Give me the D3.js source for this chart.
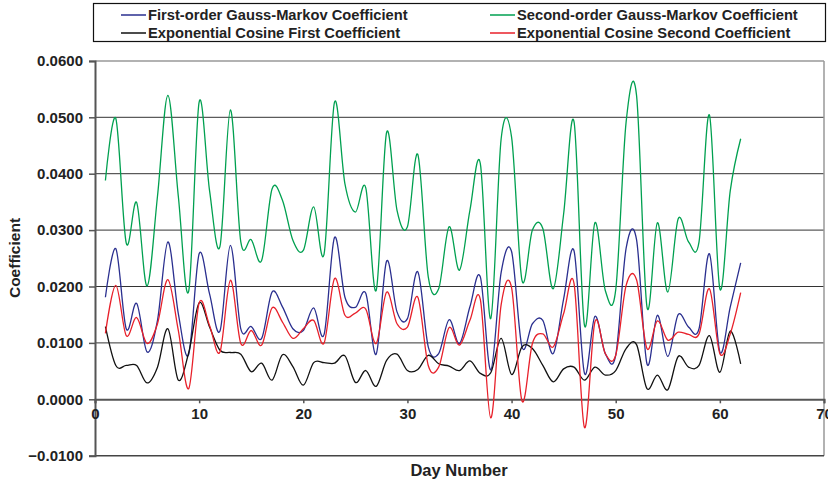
<!DOCTYPE html>
<html>
<head>
<meta charset="utf-8">
<script src="https://cdn.jsdelivr.net/npm/d3@7"></script>
<style>
  html, body { margin: 0; padding: 0; background: #fff; }
  svg { display: block; }
  text { font-family: "Liberation Sans", Arial, Helvetica, sans-serif; font-weight: bold; fill: #222; }
</style>
</head>
<body>
<svg id="chart" width="828" height="481"></svg>
<script>
const days = d3.range(1, 63);

const firstOrderGM = [
  0.0181, 0.0267, 0.0125, 0.0170, 0.0084, 0.0140, 0.0279, 0.0152, 0.0080, 0.0258,
  0.0187, 0.0121, 0.0273, 0.0125, 0.0129, 0.0108, 0.0190, 0.0164, 0.0125, 0.0122,
  0.0162, 0.0115, 0.0287, 0.0181, 0.0163, 0.0188, 0.0080, 0.0245, 0.0155, 0.0143,
  0.0226, 0.0093, 0.0081, 0.0141, 0.0099, 0.0164, 0.0217, 0.0052, 0.0225, 0.0262,
  0.0093, 0.0134, 0.0140, 0.0081, 0.0178, 0.0263, 0.0046, 0.0147, 0.0081, 0.0078,
  0.0268, 0.0283, 0.0063, 0.0149, 0.0076, 0.0150, 0.0128, 0.0125, 0.0258, 0.0084,
  0.0164, 0.0242
];

const secondOrderGM = [
  0.0388, 0.0498, 0.0277, 0.0349, 0.0201, 0.0360, 0.0539, 0.0360, 0.0192, 0.0527,
  0.0370, 0.0271, 0.0513, 0.0279, 0.0283, 0.0246, 0.0373, 0.0353, 0.0282, 0.0264,
  0.0341, 0.0258, 0.0527, 0.0382, 0.0332, 0.0375, 0.0193, 0.0473, 0.0335, 0.0306,
  0.0434, 0.0217, 0.0196, 0.0306, 0.0229, 0.0335, 0.0418, 0.0143, 0.0462, 0.0465,
  0.0211, 0.0300, 0.0303, 0.0196, 0.0329, 0.0492, 0.0131, 0.0313, 0.0193, 0.0194,
  0.0492, 0.0539, 0.0164, 0.0313, 0.0190, 0.0320, 0.0279, 0.0279, 0.0504, 0.0196,
  0.0370, 0.0462
];

const expCosFirst = [
  0.0129, 0.0060, 0.0060, 0.0060, 0.0029, 0.0057, 0.0125, 0.0034, 0.0083, 0.0171,
  0.0128, 0.0087, 0.0083, 0.0080, 0.0049, 0.0064, 0.0034, 0.0079, 0.0058, 0.0025,
  0.0065, 0.0065, 0.0064, 0.0077, 0.0030, 0.0051, 0.0023, 0.0069, 0.0080, 0.0051,
  0.0053, 0.0078, 0.0063, 0.0059, 0.0051, 0.0068, 0.0046, 0.0047, 0.0108, 0.0044,
  0.0093, 0.0090, 0.0060, 0.0031, 0.0054, 0.0057, 0.0034, 0.0057, 0.0043, 0.0051,
  0.0090, 0.0097, 0.0019, 0.0043, 0.0017, 0.0076, 0.0057, 0.0060, 0.0113, 0.0048,
  0.0121, 0.0063
];

const expCosSecond = [
  0.0117, 0.0202, 0.0113, 0.0145, 0.0099, 0.0134, 0.0212, 0.0122, 0.0019, 0.0171,
  0.0131, 0.0084, 0.0211, 0.0099, 0.0122, 0.0096, 0.0162, 0.0137, 0.0108, 0.0125,
  0.0140, 0.0100, 0.0214, 0.0149, 0.0153, 0.0160, 0.0099, 0.0190, 0.0134, 0.0128,
  0.0181, 0.0060, 0.0057, 0.0127, 0.0096, 0.0140, 0.0177, -0.0033, 0.0168, 0.0198,
  -0.0003, 0.0099, 0.0116, 0.0093, 0.0152, 0.0205, -0.0050, 0.0137, 0.0081, 0.0078,
  0.0202, 0.0212, 0.0090, 0.0139, 0.0105, 0.0119, 0.0115, 0.0116, 0.0196, 0.0081,
  0.0116, 0.0189
];

const seriesNames = [
  "First-order Gauss-Markov Coefficient",
  "Second-order Gauss-Markov Coefficient",
  "Exponential Cosine First Coefficient",
  "Exponential Cosine Second Coefficient"
];
const seriesValues = [firstOrderGM, secondOrderGM, expCosFirst, expCosSecond];
const seriesColors = ["#2a2f8f", "#00a050", "#111111", "#e8202a"];

const xTicks = [0, 10, 20, 30, 40, 50, 60, 70];
const yTicks = [-0.01, 0, 0.01, 0.02, 0.03, 0.04, 0.05, 0.06];

const svg = d3.select("#chart");
const plotLeft = 95, plotRight = 824, plotTop = 60.9, plotBottom = 455.7;

const x = d3.scaleLinear().domain([0, 70]).range([plotLeft, plotRight]);
const y = d3.scaleLinear().domain([-0.01, 0.06]).range([plotBottom, plotTop]);

// gridlines
svg.append("g").selectAll("line")
  .data(yTicks.filter(t => t > 0 && t < 0.06))
  .join("line")
  .attr("x1", plotLeft).attr("x2", plotRight)
  .attr("y1", d => y(d)).attr("y2", d => y(d))
  .attr("stroke", "#333").attr("stroke-width", 1);

// plot frame
svg.append("line").attr("x1", plotLeft).attr("x2", plotRight).attr("y1", y(0.06)).attr("y2", y(0.06))
  .attr("stroke", "#999").attr("stroke-width", 1.5);
svg.append("line").attr("x1", plotRight).attr("x2", plotRight).attr("y1", y(0.06)).attr("y2", y(-0.01))
  .attr("stroke", "#999").attr("stroke-width", 1.5);
svg.append("line").attr("x1", plotLeft).attr("x2", plotRight).attr("y1", y(-0.01)).attr("y2", y(-0.01))
  .attr("stroke", "#444").attr("stroke-width", 1.5);

const tickFont = "Liberation Sans, Arial, sans-serif";

// y axis
const yAxis = d3.axisLeft(y).tickValues(yTicks).tickFormat(d3.format(".4f")).tickSize(6).tickPadding(6);
const gy = svg.append("g").attr("transform", `translate(${plotLeft},0)`).call(yAxis);
gy.select(".domain").attr("stroke", "#555").attr("stroke-width", 2);
gy.selectAll(".tick line").attr("stroke", "#555").attr("stroke-width", 1.5);
gy.selectAll(".tick text").attr("font-size", 15).attr("font-family", tickFont).attr("font-weight", "bold").attr("fill", "#222");

// x axis at y=0
const xAxis = d3.axisBottom(x).tickValues(xTicks).tickFormat(d3.format("d")).tickSize(4).tickPadding(5);
const gx = svg.append("g").attr("transform", `translate(0,${y(0)})`).call(xAxis);
gx.select(".domain").attr("stroke", "#555").attr("stroke-width", 2);
gx.selectAll(".tick line").attr("stroke", "#555").attr("stroke-width", 1.5);
gx.selectAll(".tick text").attr("font-size", 15).attr("font-family", tickFont).attr("font-weight", "bold").attr("fill", "#222");

// lines
const line = d3.line().x((d, i) => x(days[i])).y(d => y(d)).curve(d3.curveCardinal.tension(0));
svg.append("g").selectAll("path")
  .data(seriesValues)
  .join("path")
  .attr("d", d => line(d))
  .attr("fill", "none")
  .attr("stroke", (d, i) => seriesColors[i])
  .attr("stroke-width", 1.3);

// axis titles
svg.append("text").attr("x", 459).attr("y", 476).attr("text-anchor", "middle")
  .attr("font-size", 16.5).text("Day Number");
svg.append("text").attr("transform", "translate(20,258) rotate(-90)").attr("text-anchor", "middle")
  .attr("font-size", 15.5).text("Coefficient");

// legend
const lg = svg.append("g");
lg.append("rect").attr("x", 93.5).attr("y", 3.5).attr("width", 732).attr("height", 38)
  .attr("fill", "#fff").attr("stroke", "#111").attr("stroke-width", 1.2);
const legendPos = [[121, 15], [490, 15], [121, 33], [490, 33]];
seriesNames.forEach((name, i) => {
  const [lx, ly] = legendPos[i];
  lg.append("line").attr("x1", lx).attr("x2", lx + 25).attr("y1", ly).attr("y2", ly)
    .attr("stroke", seriesColors[i]).attr("stroke-width", 1.5);
  lg.append("text").attr("x", lx + 27).attr("y", ly + 5).attr("font-size", 14.7).text(name);
});
</script>
</body>
</html>
